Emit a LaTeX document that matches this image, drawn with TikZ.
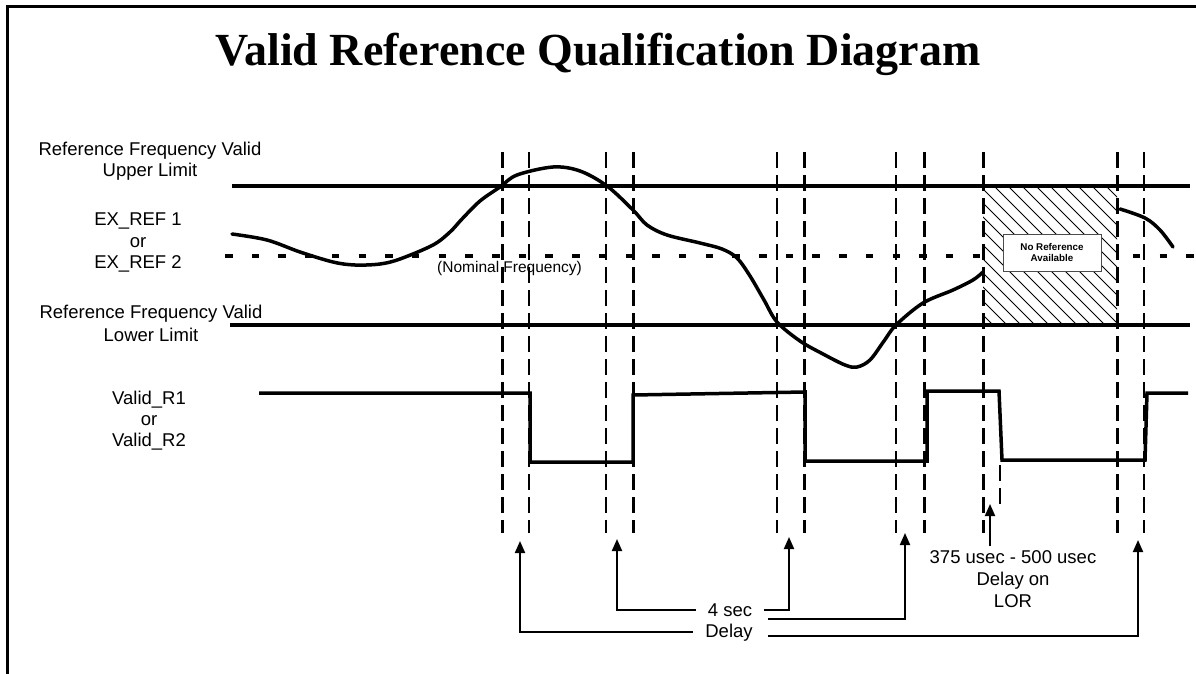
\documentclass[tikz,border=0pt]{standalone}
\usepackage{fontspec}
\setmainfont{Liberation Sans}
\newfontfamily\titlefont{Liberation Serif}
\usetikzlibrary{arrows.meta}
\tikzset{
  lbl/.style={font=\fontsize{18.5}{21}\selectfont, anchor=base, inner sep=0pt},
  limitline/.style={line width=4.5pt},
  nominal/.style={line width=4.5pt, dash pattern=on 7.5pt off 19.2pt},
  vthick/.style={line width=3pt, dash pattern=on 16pt off 7pt},
  vthin/.style={line width=2pt, dash pattern=on 16pt off 7pt},
  sig/.style={line width=3.5pt, line join=miter},
  refcurve/.style={line width=3.5pt, line cap=round},
  arr/.style={line width=2pt, -{Triangle[length=12pt,width=10pt]}},
  hatchline/.style={line width=0.8pt},
  gapl/.style={lbl, inner xsep=12pt},
}
\begin{document}
\begin{tikzpicture}[x=1pt,y=-1pt]
\useasboundingbox (0,0) rectangle (1196,674);
% frame
\draw[line width=3pt] (7,674) -- (7,7) -- (1196,7);
% title
\node[font=\titlefont\bfseries\fontsize{46}{50}\selectfont, anchor=base, inner sep=0pt] (title) at (598,66) {Valid Reference Qualification Diagram};

% left labels
\node[lbl] (ul1) at (150,155) {Reference Frequency Valid};
\node[lbl] (ul2) at (150,176) {Upper Limit};
\node[lbl] (ex1) at (138,225) {EX\_REF 1};
\node[lbl] (exor) at (138,247) {or};
\node[lbl] (ex2) at (138,268) {EX\_REF 2};
\node[lbl] (ll1) at (151,318) {Reference Frequency Valid};
\node[lbl] (ll2) at (151,341) {Lower Limit};
\node[lbl] (v1) at (149,404) {Valid\_R1};
\node[lbl] (vor) at (149,425) {or};
\node[lbl] (v2) at (149,446) {Valid\_R2};

% nominal frequency line
\draw[nominal] (225,256) -- (1196,256);
\node[font=\fontsize{15.5}{18}\selectfont, anchor=base west, inner sep=0pt] (nom) at (437,272) {(Nominal Frequency)};

% hatched no-reference region
\begin{scope}
  \fill[white] (983,186) rectangle (1117,325);
  \clip (983,186) rectangle (1117,325);
  \foreach \i in {0,...,21} \draw[hatchline] (840+14*\i,186) -- ++(139,139);
\end{scope}
\node[draw=black!70, line width=0.8pt, fill=white, minimum width=98pt, minimum height=37pt, inner sep=0pt, align=center, font=\bfseries\fontsize{9.8}{11}\selectfont] (noref) at (1052,252.5) {No Reference\\Available};

% limit lines
\draw[limitline] (232,186) -- (1190,186);
\draw[limitline] (230,325) -- (1190,325);

% reference curve
\draw[refcurve] plot[smooth, tension=0.55] coordinates {
 (232,234) (267,240) (300,252) (333,262) (355,265) (380,264) (400,259)
 (433,245) (450,232) (462,219) (480,201) (500,187) (517,175) (553,167)
 (580,171) (607,186) (633,210) (647,225) (667,235) (700,243) (722,249)
 (737,258) (750,276) (764,300) (777,322) (800,341) (823,354) (845,365)
 (857,367) (870,360) (884,341) (896,325) (923,303) (953,290) (973,280) (983,272)};
\draw[refcurve] plot[smooth, tension=0.55] coordinates {(1120,209) (1145,218) (1160,230) (1173,247)};

% vertical dashed lines
\foreach \x in {502,633,804,924,983,1117} \draw[vthick] (\x,152) -- (\x,533);
\foreach \x in {529,606,777,896,1144} \draw[vthin] (\x,152) -- (\x,533);
\draw[vthin] (1000,465) -- (1000,508);

% valid signal
\draw[sig] (259,393) -- (530,393) -- (530,462) -- (633,462) -- (633,395) -- (805,392)
  -- (805,461) -- (927,461) -- (927,391) -- (999,391) -- (1002,460) -- (1145,460)
  -- (1147,393) -- (1188,393);

% delay labels and arrows
\coordinate (t1) at (520,541);
\coordinate (t2) at (617,539);
\coordinate (t3) at (789,537);
\coordinate (t4) at (905,533);
\coordinate (t5) at (1138,540);
\coordinate (t6) at (990,504);
\coordinate (d4) at (768,619);
\coordinate (d5) at (768,636);
\coordinate (t6s) at (990,546);
\node[gapl] (foursec) at (730,616) {4 sec};
\node[gapl] (delay) at (729,637) {Delay};
\draw[arr] (delay.west) -| (t1);
\draw[arr] (foursec.west) -| (t2);
\draw[arr] (foursec.east) -| (t3);
\draw[arr] (d4) -| (t4);
\draw[arr] (d5) -| (t5);

\node[lbl] (lor1) at (1013,563) {375 usec - 500 usec};
\node[lbl] (lor2) at (1013,585) {Delay on};
\node[lbl] (lor3) at (1013,607) {LOR};
\draw[arr] (t6s) -- (t6);
\end{tikzpicture}
\end{document}
